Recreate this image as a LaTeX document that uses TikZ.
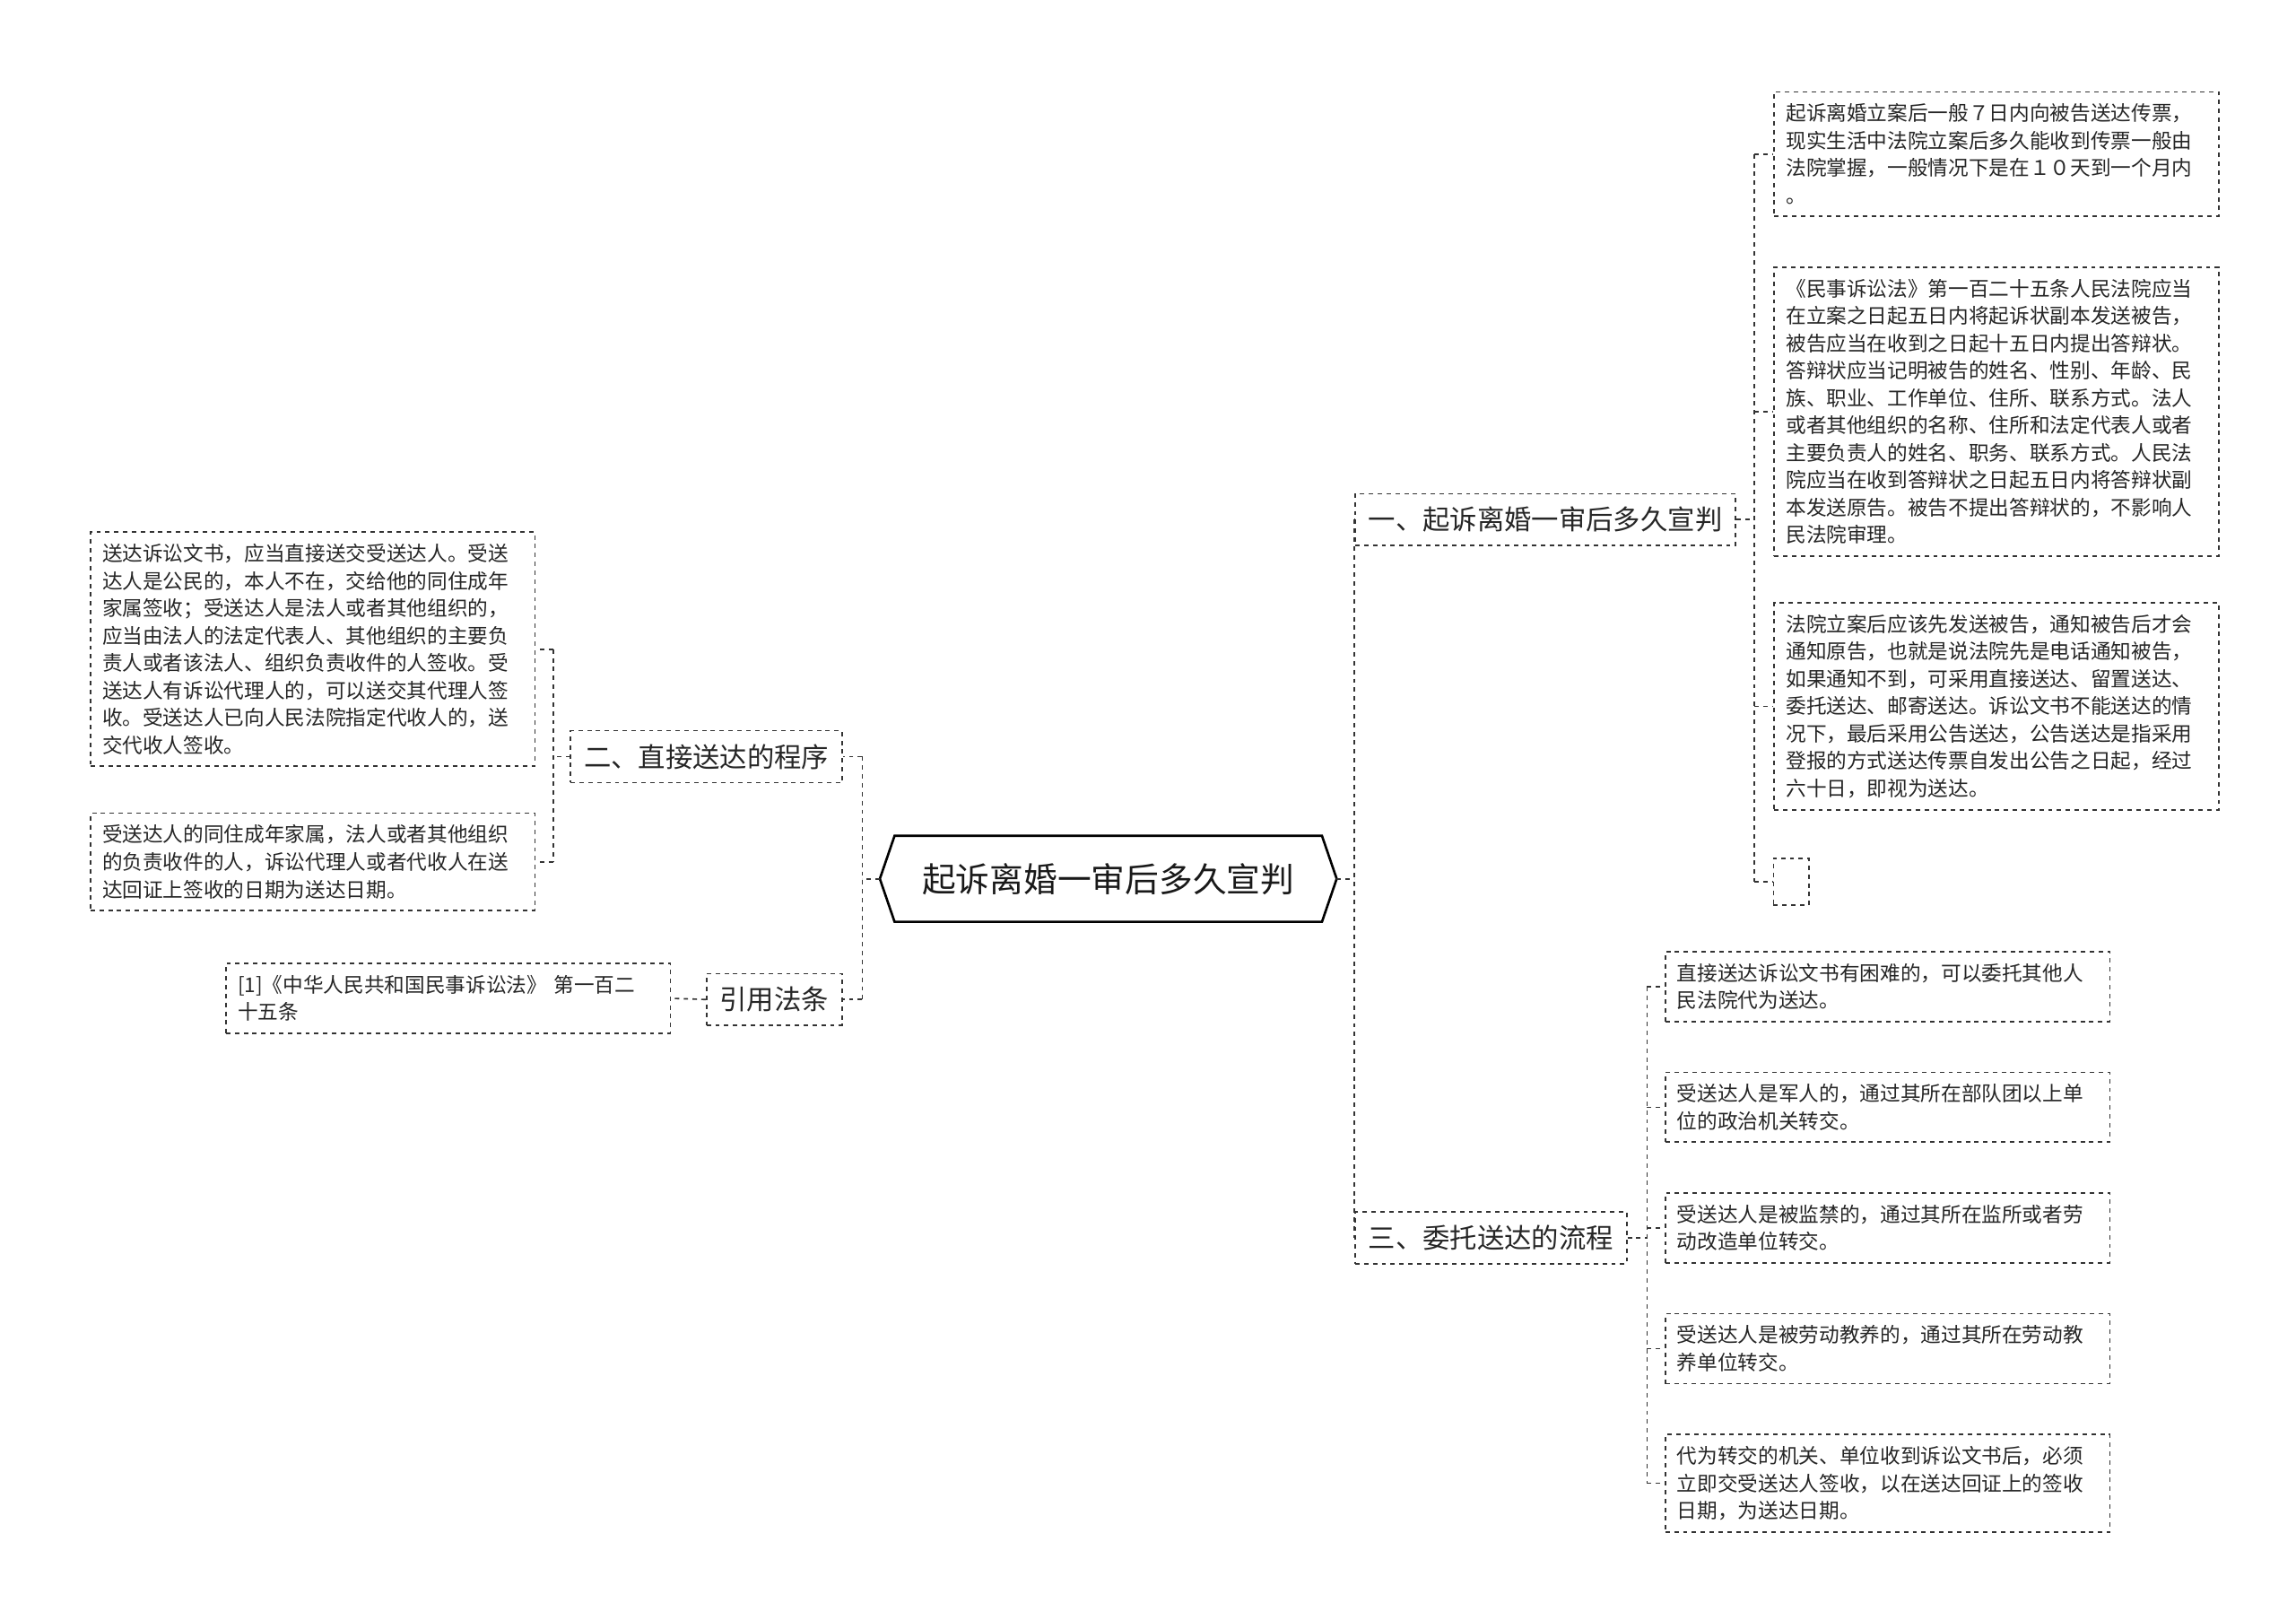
\documentclass[tikz,border=0pt]{standalone}
\usepackage{fontspec}
\setmainfont{Noto Sans CJK SC}
\begin{document}
\begin{tikzpicture}[x=1pt,y=-1pt,
  line/.style={draw=black!80,dashed,line width=1pt},
  leaf/.style={line,anchor=north west,text width=286pt,align=left,inner xsep=8pt,inner ysep=8pt,font=\fontsize{13.8}{18.6}\selectfont,text=black!85},
  br/.style={line,inner xsep=9pt,inner ysep=9pt,font=\fontsize{18.5}{21}\selectfont,text=black!85}]
\useasboundingbox[fill=white] (0,0) rectangle (1560,1100);
% center
\node[minimum width=310pt,minimum height=58pt,font=\fontsize{23}{26}\selectfont,inner sep=0pt,text=black!90] (c) at (753,597) {起诉离婚一审后多久宣判};
\draw[line width=1.6pt] (c.west) -- ([xshift=10pt]c.north west) -- ([xshift=-10pt]c.north east) -- (c.east) -- ([xshift=-10pt]c.south east) -- ([xshift=10pt]c.south west) -- cycle;
% branches
\node[br] (b1) at (1050,353) {一、起诉离婚一审后多久宣判};
\node[br] (b3) at (1013,841) {三、委托送达的流程};
\node[br] (b2) at (480,514) {二、直接送达的程序};
\node[br] (b4) at (526,679) {引用法条};
% leaves b1
\node[leaf] (l1) at (1205,62) {起诉离婚立案后一般７日内向被告送达传票，\\现实生活中法院立案后多久能收到传票一般由\\法院掌握，一般情况下是在１０天到一个月内\\。};
\node[leaf] (l2) at (1205,181) {《民事诉讼法》第一百二十五条人民法院应当\\在立案之日起五日内将起诉状副本发送被告，\\被告应当在收到之日起十五日内提出答辩状。\\答辩状应当记明被告的姓名、性别、年龄、民\\族、职业、工作单位、住所、联系方式。法人\\或者其他组织的名称、住所和法定代表人或者\\主要负责人的姓名、职务、联系方式。人民法\\院应当在收到答辩状之日起五日内将答辩状副\\本发送原告。被告不提出答辩状的，不影响人\\民法院审理。};
\node[leaf] (l3) at (1205,409) {法院立案后应该先发送被告，通知被告后才会\\通知原告，也就是说法院先是电话通知被告，\\如果通知不到，可采用直接送达、留置送达、\\委托送达、邮寄送达。诉讼文书不能送达的情\\况下，最后采用公告送达，公告送达是指采用\\登报的方式送达传票自发出公告之日起，经过\\六十日，即视为送达。};
\node[line,minimum width=24pt,minimum height=32pt,inner sep=0pt] (l4) at (1217,599) {};
% leaves b3
\node[leaf] (m1) at (1131,646) {直接送达诉讼文书有困难的，可以委托其他人\\民法院代为送达。};
\node[leaf] (m2) at (1131,728) {受送达人是军人的，通过其所在部队团以上单\\位的政治机关转交。};
\node[leaf] (m3) at (1131,810) {受送达人是被监禁的，通过其所在监所或者劳\\动改造单位转交。};
\node[leaf] (m4) at (1131,892) {受送达人是被劳动教养的，通过其所在劳动教\\养单位转交。};
\node[leaf] (m5) at (1131,974) {代为转交的机关、单位收到诉讼文书后，必须\\立即交受送达人签收，以在送达回证上的签收\\日期，为送达日期。};
% leaves b2
\node[leaf] (n1) at (61,361) {送达诉讼文书，应当直接送交受送达人。受送\\达人是公民的，本人不在，交给他的同住成年\\家属签收；受送达人是法人或者其他组织的，\\应当由法人的法定代表人、其他组织的主要负\\责人或者该法人、组织负责收件的人签收。受\\送达人有诉讼代理人的，可以送交其代理人签\\收。受送达人已向人民法院指定代收人的，送\\交代收人签收。};
\node[leaf] (n2) at (61,552) {受送达人的同住成年家属，法人或者其他组织\\的负责收件的人，诉讼代理人或者代收人在送\\达回证上签收的日期为送达日期。};
\node[leaf] (k1) at (153,654) {[1]《中华人民共和国民事诉讼法》 第一百二\\十五条};
% connectors center
\draw[line] (c.east) -- ++(12,0) coordinate (cr);
\draw[line] (cr |- b1) -- (cr |- b3);
\draw[line] (cr |- b1) -- (b1.west);
\draw[line] (cr |- b3) -- (b3.west);
\draw[line] (c.west) -- ++(-12,0) coordinate (cl);
\draw[line] (cl |- b2) -- (cl |- b4);
\draw[line] (cl |- b2) -- (b2.east);
\draw[line] (cl |- b4) -- (b4.east);
% b1 leaves
\coordinate (x1) at (1192,0);
\draw[line] (b1.east) -- (x1 |- b1);
\draw[line] (x1 |- l1.west) -- (x1 |- l4.west);
\foreach \n in {l1,l2,l3,l4} \draw[line] (x1 |- \n.west) -- (\n.west);
% b3 leaves
\coordinate (x3) at (1119,0);
\draw[line] (b3.east) -- (x3 |- b3);
\draw[line] (x3 |- m1.west) -- (x3 |- m5.west);
\foreach \n in {m1,m2,m3,m4,m5} \draw[line] (x3 |- \n.west) -- (\n.west);
% b2 leaves
\coordinate (x2) at (376,0);
\draw[line] (b2.west) -- (x2 |- b2);
\draw[line] (x2 |- n1.east) -- (x2 |- n2.east);
\foreach \n in {n1,n2} \draw[line] (x2 |- \n.east) -- (\n.east);
\draw[line] (b4.west) -- (k1.east);
\end{tikzpicture}
\end{document}
